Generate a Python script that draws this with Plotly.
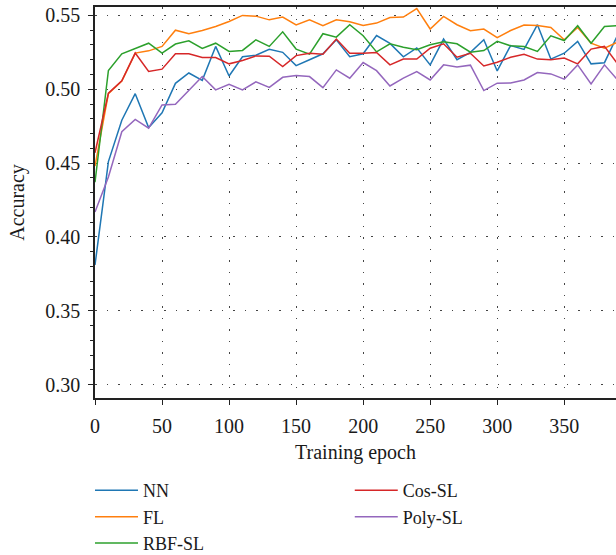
import plotly.graph_objects as go

epochs = list(range(0, 400, 10))

nn = [0.381, 0.451, 0.479, 0.497, 0.474, 0.484, 0.504, 0.511, 0.506, 0.529,
      0.509, 0.522, 0.523, 0.527, 0.525, 0.516, 0.520, 0.524, 0.5335, 0.522,
      0.524, 0.5364, 0.531, 0.522, 0.528, 0.5165, 0.534, 0.520, 0.525, 0.5335,
      0.5124, 0.5296, 0.527, 0.5437, 0.5204, 0.5244, 0.5324, 0.5172, 0.518, 0.537]
fl = [0.448, 0.497, 0.5055, 0.5245, 0.526, 0.529, 0.540, 0.5376, 0.5398, 0.5425,
      0.5459, 0.550, 0.5495, 0.547, 0.5489, 0.5435, 0.547, 0.543, 0.547, 0.5457,
      0.5432, 0.5448, 0.5486, 0.5489, 0.5546, 0.5408, 0.5493, 0.5437, 0.5396, 0.5408,
      0.535, 0.5398, 0.5435, 0.5432, 0.5418, 0.5335, 0.5418, 0.5312, 0.5278, 0.532]
rbf_sl = [0.437, 0.5127, 0.524, 0.5274, 0.5312, 0.5245, 0.5306, 0.5328, 0.5276, 0.5312,
          0.5256, 0.5263, 0.5335, 0.529, 0.5389, 0.5272, 0.5238, 0.5376, 0.5353, 0.5437,
          0.5362, 0.5253, 0.5308, 0.5285, 0.5267, 0.5301, 0.5321, 0.5308, 0.5251, 0.5262,
          0.5324, 0.5294, 0.5289, 0.5256, 0.5362, 0.533, 0.543, 0.5312, 0.5425, 0.543]
cos_sl = [0.457, 0.4973, 0.5057, 0.5245, 0.512, 0.5136, 0.524, 0.524, 0.5215, 0.5215,
          0.5172, 0.5195, 0.5226, 0.5224, 0.5154, 0.5228, 0.5244, 0.5237, 0.534, 0.5244,
          0.5244, 0.5249, 0.5165, 0.5204, 0.5204, 0.5278, 0.5308, 0.5217, 0.5244, 0.5158,
          0.5183, 0.5217, 0.5237, 0.5204, 0.5199, 0.5211, 0.5172, 0.5272, 0.529, 0.517]
poly_sl = [0.4168, 0.4406, 0.4712, 0.4796, 0.4736, 0.4894, 0.4898, 0.4991, 0.5086, 0.4996,
           0.5034, 0.4996, 0.505, 0.5012, 0.5081, 0.5093, 0.5086, 0.5011, 0.5131, 0.5075,
           0.5181, 0.5126, 0.5022, 0.5075, 0.512, 0.5063, 0.5165, 0.515, 0.5163, 0.4991,
           0.5041, 0.5043, 0.5063, 0.5113, 0.5104, 0.5068, 0.5165, 0.5036, 0.5165, 0.506]

series_names = ["NN", "FL", "RBF-SL", "Cos-SL", "Poly-SL"]
series_values = [nn, fl, rbf_sl, cos_sl, poly_sl]
colors = ["#1f77b4", "#ff7f0e", "#2ca02c", "#d62728", "#9467bd"]
legend_ids = ["legend", "legend", "legend", "legend2", "legend2"]

x_ticks = [0, 50, 100, 150, 200, 250, 300, 350]
y_ticks = [0.30, 0.35, 0.40, 0.45, 0.50, 0.55]

FONT = "Liberation Serif"
TXT = "#1a1a1a"

fig = go.Figure()
for name, vals, col, lg in zip(series_names, series_values, colors, legend_ids):
    fig.add_trace(go.Scatter(x=epochs, y=vals, mode="lines", name=name,
                             line=dict(color=col, width=1.5), legend=lg))

axis_common = dict(
    showline=True, linecolor="#222", linewidth=1.5,
    ticks="outside", ticklen=5, tickwidth=1.2, tickcolor="#222",
    showgrid=True, gridcolor="#444", gridwidth=1.2, griddash="1.5px,10px",
    zeroline=False, automargin=False,
    tickfont=dict(family=FONT, size=20, color=TXT),
)

leg_common = dict(xanchor="left", yanchor="top", orientation="v",
                  font=dict(family=FONT, size=18, color=TXT), bgcolor="rgba(0,0,0,0)",
                  tracegroupgap=0, itemwidth=43)

fig.update_layout(
    width=616, height=555,
    margin=dict(l=95, r=0, t=7, b=157, autoexpand=False),
    paper_bgcolor="white", plot_bgcolor="white",
    font=dict(family=FONT, size=20, color=TXT),
    xaxis=dict(range=[0, 388.6], tickvals=x_ticks, mirror=True, ticklabelstandoff=4,
               title=dict(text="Training epoch", font=dict(family=FONT, size=20, color=TXT), standoff=9),
               **axis_common),
    yaxis=dict(range=[0.2909, 0.5557], tickvals=y_ticks, tickformat=".2f", ticklabelstandoff=4,
               minor=dict(dtick=0.01, ticks="outside", ticklen=3, tickcolor="#222", showgrid=False),
               title=dict(text="Accuracy", font=dict(family=FONT, size=20, color=TXT), standoff=15),
               **axis_common),
    legend=dict(x=-0.0096, y=-0.1895, **leg_common),
    legend2=dict(x=0.489, y=-0.1895, **leg_common),
    showlegend=True,
)

fig.write_html("out.html", config={"displayModeBar": False},
               post_script="document.body.style.margin='0px';document.body.style.overflow='hidden';")
